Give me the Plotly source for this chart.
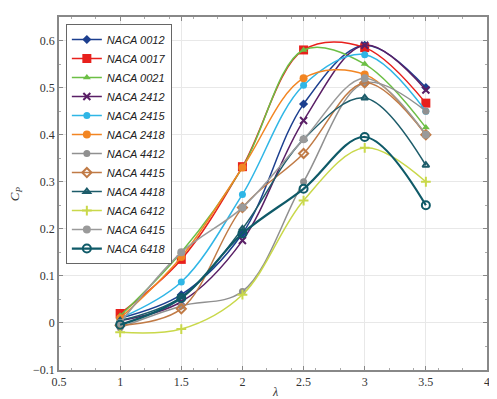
import plotly.graph_objects as go

lam = [1, 1.5, 2, 2.5, 3, 3.5]
x_ticks = [0.5, 1, 1.5, 2, 2.5, 3, 3.5, 4]
x_ticklabels = ["0.5", "1", "1.5", "2", "2.5", "3", "3.5", "4"]
y_ticks = [-0.1, 0, 0.1, 0.2, 0.3, 0.4, 0.5, 0.6]
y_ticklabels = ["−0.1", "0", "0.1", "0.2", "0.3", "0.4", "0.5", "0.6"]
names = ["NACA 0012", "NACA 0017", "NACA 0021", "NACA 2412", "NACA 2415", "NACA 2418",
         "NACA 4412", "NACA 4415", "NACA 4418", "NACA 6412", "NACA 6415", "NACA 6418"]
cp_0012 = [0.010, 0.060, 0.190, 0.465, 0.590, 0.500]
cp_0017 = [0.020, 0.135, 0.332, 0.580, 0.585, 0.467]
cp_0021 = [0.015, 0.150, 0.330, 0.580, 0.550, 0.415]
cp_2412 = [0.005, 0.045, 0.175, 0.430, 0.590, 0.495]
cp_2415 = [0.010, 0.087, 0.273, 0.505, 0.570, 0.450]
cp_2418 = [0.010, 0.140, 0.330, 0.520, 0.528, 0.400]
cp_4412 = [-0.010, 0.036, 0.067, 0.300, 0.510, 0.450]
cp_4415 = [-0.005, 0.030, 0.245, 0.360, 0.510, 0.400]
cp_4418 = [0.005, 0.055, 0.200, 0.390, 0.478, 0.335]
cp_6412 = [-0.020, -0.013, 0.060, 0.260, 0.372, 0.300]
cp_6415 = [0.000, 0.150, 0.245, 0.390, 0.520, 0.400]
cp_6418 = [-0.004, 0.053, 0.190, 0.285, 0.395, 0.250]
series = [cp_0012, cp_0017, cp_0021, cp_2412, cp_2415, cp_2418,
          cp_4412, cp_4415, cp_4418, cp_6412, cp_6415, cp_6418]

colors = ["#1c3f8f", "#e8201c", "#6cbf45", "#5a1f66", "#2fb6e6", "#f28522",
          "#909090", "#c07a45", "#1d5c6a", "#c9d84a", "#9a9a9a", "#0f5a68"]
symbols = ["diamond", "square", "triangle-up", "x-thin", "circle", "circle",
           "circle", "diamond-open", "triangle-up-open", "cross-thin", "circle", "circle-open"]
sizes = [7, 9, 7, 7, 7, 8, 7, 7, 6, 7, 8, 8]

fig = go.Figure()
for n, y, c, s, sz in zip(names, series, colors, symbols, sizes):
    lw = 2.2 if s == "circle-open" else 1.5
    fig.add_trace(go.Scatter(
        x=lam, y=y, name=f"<i>{n}</i>", mode="lines+markers",
        line=dict(color=c, width=lw, shape="spline", smoothing=1.0),
        marker=dict(symbol=s, size=sz, color=c,
                    line=dict(color=c, width=2 if ("open" in s or "thin" in s) else 0)),
    ))

axis_common = dict(
    showline=True, linecolor="#888888", linewidth=1.5, mirror="ticks",
    ticks="inside", ticklen=4, tickcolor="#888888",
    showgrid=True, gridcolor="#e8e8e8", gridwidth=1, zeroline=False,
    tickfont=dict(family="Liberation Serif", size=12, color="#333333"),
    minor=dict(ticks="inside", ticklen=2, tickcolor="#aaaaaa", showgrid=False),
)

fig.update_layout(
    width=489, height=391,
    margin=dict(l=51, r=7, t=7, b=29),
    paper_bgcolor="white", plot_bgcolor="white",
    xaxis=dict(range=[0.5, 4], tickvals=x_ticks, ticktext=x_ticklabels,
               automargin=True, **axis_common),
    yaxis=dict(range=[-0.1, 0.65], tickvals=y_ticks, ticktext=y_ticklabels,
               automargin=False, **axis_common),
    legend=dict(x=0.016, y=0.98, xanchor="left", yanchor="top",
                bgcolor="white", bordercolor="#666666", borderwidth=1,
                font=dict(family="Liberation Sans", size=11, color="#222222"),
                tracegroupgap=0, itemwidth=30),
    showlegend=True,
    annotations=[
        dict(text="<i>λ</i>", xref="paper", yref="paper", x=0.505, y=-0.062,
             xanchor="center", yanchor="middle", showarrow=False,
             font=dict(family="Liberation Serif", size=12, color="#333333")),
        dict(text="<i>C<sub>P</sub></i>", xref="paper", yref="paper", x=-0.101, y=0.50,
             xanchor="center", yanchor="middle", showarrow=False, textangle=-90,
             font=dict(family="Liberation Serif", size=13, color="#333333")),
    ],
)

fig.write_html("out.html")
